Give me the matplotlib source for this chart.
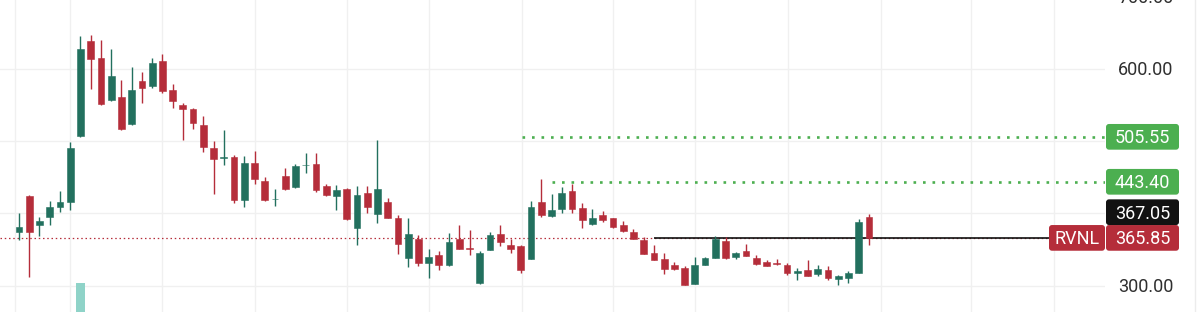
import matplotlib
matplotlib.use("Agg")
import matplotlib.pyplot as plt
from matplotlib.patches import FancyBboxPatch
from matplotlib.lines import Line2D
from matplotlib.transforms import IdentityTransform

# ---------------- data (weekly OHLC) ----------------
opens = [374, 424, 383, 395, 408.5, 416, 507, 638, 615, 557,
         560, 523, 583, 576, 611, 570, 549.5, 544, 522, 490.5,
         476, 477, 418, 469, 444.5, 419, 451, 436.5, 466, 467.5,
         437, 424, 434, 380, 428, 399, 415, 394, 338, 364,
         331.5, 342, 328, 364, 352, 303, 349, 371, 356, 354,
         337, 416, 396.5, 406, 431, 407, 385, 398, 393, 383.5,
         374.5, 363, 345, 336, 329, 324, 302, 329, 338, 362,
         339, 348, 337.5, 333, 330.5, 328, 317, 321, 316, 322,
         308.5, 310, 318, 394.5]
highs = [400, 425, 395, 417, 431, 498, 645, 647, 639, 627,
         584, 602.5, 595, 615, 620, 578, 553, 545, 535, 500,
         515, 481, 479, 486, 450, 434, 462, 467.5, 483, 483,
         441, 438.5, 435, 438, 437.5, 501, 421, 398, 394, 370,
         351, 348, 372, 384, 377, 348, 373.5, 384, 365, 356,
         417, 447, 426.5, 436, 441, 414, 406, 403, 394, 389.5,
         378, 366.5, 356, 345, 333, 327, 340, 339, 369, 367,
         347, 357, 342, 335, 336.5, 331, 324, 335, 329, 327,
         314.5, 320, 391.5, 399]
lows = [363, 312, 369, 383, 401, 404, 506, 571, 550, 555,
        514.5, 522, 553, 572.5, 566, 545, 501, 517, 484, 426,
        466.5, 414.5, 409, 440, 417, 410, 431.5, 435, 456, 429.5,
        424, 404, 390.5, 356, 400, 386, 393, 343, 325, 327,
        310, 321, 327, 350, 342, 302.5, 348.5, 355, 344.5, 317,
        336, 395, 395, 400.5, 400.5, 380, 384, 388, 380, 374.5,
        364, 343, 335, 316, 321, 300.5, 301.5, 328.5, 337.5, 337,
        336.5, 341, 328, 327, 328.5, 314.5, 307, 312.5, 313.5, 308,
        300.5, 303, 317.5, 356]
closes = [381, 373.5, 389, 409, 416, 490.5, 627, 613, 551, 590,
          516, 570, 573, 608, 569, 555, 544, 525, 492, 475,
          477, 418, 470, 447, 418, 420, 434, 465, 467, 432,
          425, 432, 392, 425, 409, 433, 394, 358, 371, 331.5,
          340, 328, 360.5, 350.5, 351, 345, 370, 360.5, 351, 322,
          409, 397, 405, 428, 406, 390, 394, 390, 380.5, 375.5,
          364.5, 343.5, 335.5, 322.5, 322.5, 301, 328, 337.5, 364, 337.5,
          345, 341.5, 330, 327.5, 330, 317, 320, 313, 323, 310,
          313.5, 318, 387.5, 365.85]

symbol = "RVNL"
last_price = 365.85
other_price = 367.05
target_levels = [505.55, 443.40]
target_starts = [49.1, 52.0]          # candle index where each dotted level starts
black_line_start = 62.0
axis_ticks = [700, 600, 300]
grid_prices = [300, 400, 500, 600, 700]
vgrid_idx = [-0.4, 5, 14, 23, 32, 40, 49.1, 58, 66, 75.1, 84.2, 93, 101.1]
volume_idx = 6
volume_top = 303.4

# ---------------- style ----------------
UP = "#22705e"
DOWN = "#b52d3a"
GREEN_LVL = "#4caf50"
GRID = "#f0f0f0"
FONT = "Roboto"

W, H = 1200, 312
fig = plt.figure(figsize=(W / 100, H / 100), dpi=100)
fig.patch.set_facecolor("white")
ax = fig.add_axes([0, 0, 1105 / W, 1])
ax.set_xlim(-1.855, 106.05)
ax.set_ylim(263.4, 694.7)
ax.axis("off")

for p in grid_prices:
    ax.axhline(p, color=GRID, lw=1, zorder=0)
for v in vgrid_idx:
    ax.axvline(v, color=GRID, lw=1, zorder=0)

# volume spike bar
ax.bar(volume_idx, volume_top - 250, bottom=250, width=0.95,
       color="#8fd3c8", zorder=1)

# last price dotted line across chart
ax.axhline(last_price, color=DOWN, lw=0.9, ls=(0, (1.2, 2.2)), zorder=1.5)
# black level line
ax.hlines(last_price, black_line_start, 106.05, color="#111111", lw=1.2, zorder=1.6)

# green dotted target levels
for lvl, st in zip(target_levels, target_starts):
    ax.hlines(lvl, st, 106.05, color=GREEN_LVL, lw=1.9,
              linestyles=[(0, (1, 2.6))], zorder=1.5)

# candles
for i, (o, h, l, c) in enumerate(zip(opens, highs, lows, closes)):
    col = UP if c >= o else DOWN
    ax.vlines(i, l, h, color=col, lw=1.0, zorder=2)
    body = max(abs(c - o), 1.0)
    ax.bar(i, body, bottom=min(o, c), width=0.66, color=col,
           edgecolor=col, linewidth=0.4, zorder=3)

# right price axis border
fig.add_artist(Line2D([1195 / W, 1195 / W], [0, 1], color="#ececec", lw=1))

fig.canvas.draw()


def y_disp(price):
    return ax.transData.transform((0, price))[1]


FS = 13
CAP = 0.711 * FS * 100 / 72  # cap height in px


def label(price_y, text, fc, x0=1106, w=73, h=25.7, tc="white"):
    yc = price_y
    box = FancyBboxPatch((x0, yc - h / 2), w, h,
                         boxstyle="round,pad=0,rounding_size=3",
                         transform=IdentityTransform(), fc=fc, ec="none",
                         figure=fig)
    fig.patches.append(box)
    fig.text((x0 + w / 2) / W, (yc - CAP / 2) / H, text, color=tc,
             ha="center", va="baseline", fontsize=FS, family=FONT)


# axis tick labels
for t in axis_ticks:
    yc = y_disp(t)
    fig.text(1146 / W, (yc - CAP / 2) / H, f"{t:.2f}", color="#2f2f2f",
             ha="center", va="baseline", fontsize=FS, family=FONT)

for lvl in target_levels:
    label(y_disp(lvl), f"{lvl:.2f}", GREEN_LVL)

y_last = y_disp(last_price)
label(y_last, f"{last_price:.2f}", DOWN)
label(y_last + 25.7, f"{other_price:.2f}", "#121212")
label(y_last, symbol, DOWN, x0=1049, w=56)

fig.savefig("out.png", dpi=100)
